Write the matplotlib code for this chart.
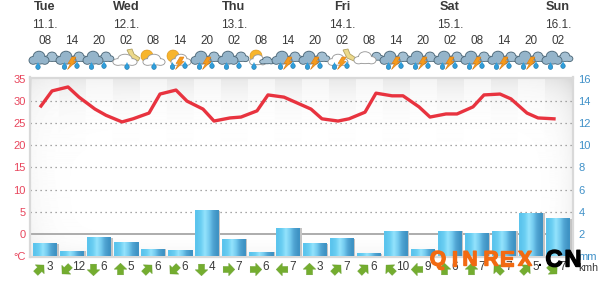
"""Weather forecast chart: temperature line, rain bars, icons and wind row."""
import matplotlib
matplotlib.use("Agg")
import matplotlib.pyplot as plt
import matplotlib.patheffects as pe
import numpy as np
from matplotlib.markers import MarkerStyle
from matplotlib.patches import Ellipse, Polygon, Wedge
from matplotlib.path import Path
from matplotlib.transforms import Affine2D

plt.rcParams["font.family"] = ["Liberation Sans", "DejaVu Sans"]

days = ["Tue", "Wed", "Thu", "Fri", "Sat", "Sun"]
dates = ["11.1.", "12.1.", "13.1.", "14.1.", "15.1.", "16.1."]
day_columns = [0, 3, 7, 11, 15, 19]
hours = ["08", "14", "20", "02", "08", "14", "20", "02", "08", "14",
         "20", "02", "08", "14", "20", "02", "08", "14", "20", "02"]
# two readings per column, the first a little left of the column centre
temperature = [28.9, 32.3, 33.2, 30.9, 28.2, 26.8, 25.3, 26.0, 27.3, 31.6,
               32.5, 30.0, 28.2, 25.5, 26.2, 26.4, 27.8, 31.4, 30.9, 29.8,
               28.2, 26.0, 25.5, 26.0, 27.5, 31.8, 31.2, 31.2, 28.7, 26.4,
               27.1, 27.1, 28.7, 31.4, 31.6, 30.5, 27.3, 26.2, 26.0]
rain = [1.1, 0.45, 1.65, 1.25, 0.6, 0.5, 4.1, 1.5, 0.35, 2.5,
        1.1, 1.55, 0.2, 2.25, 0.55, 2.25, 2.05, 2.25, 3.85, 3.35]
wind_speed = [3, 12, 6, 5, 6, 6, 4, 7, 6, 7, 3, 7, 6, 10, 9, 6, 7, 7, 5, 7]
# degrees the arrow is turned, 0 = pointing up, positive = anticlockwise
wind_turn = [-45, 135, 180, 0, -45, 135, 180, -90, -90, 90,
             0, -45, -45, 45, 90, 0, 0, 45, -45, -135]
icons = ["rain1", "storm", "rain2", "moon", "sun", "sunstorm", "storm", "rain2",
         "moonrain", "storm", "storm", "moonstorm", "dry", "storm", "storm",
         "storm", "storm", "storm", "storm", "rain2"]
left_labels = ["°C", "0", "5", "10", "15", "20", "25", "30", "35"]
right_labels = ["mm", "2", "4", "6", "8", "10", "12", "14", "16"]

RED = "#e8455c"
BLUE = "#3f90c8"
TEXT = "#3a3a3a"
W, H = 600, 282
COL0, COLW = 45.0, 27.0


def col_x(i):
    return COL0 + COLW * i


def cloud(ax, cx, cy, w, h, fill, edge):
    lobes = [(-0.32, 0.2, 0.42, 0.58), (0.32, 0.2, 0.42, 0.58), (0.0, -0.12, 0.6, 0.82), (0.0, 0.22, 0.8, 0.5)]
    for grow, col in ((1.8, edge), (0.0, fill)):
        for dx, dy, fw, fh in lobes:
            ax.add_patch(Ellipse((cx + dx * w, cy + dy * h), fw * w + grow, fh * h + grow,
                                 fc=col, ec="none", zorder=4))


def drop(ax, x, y):
    ax.add_patch(Ellipse((x, y + 1.5), 4.4, 4.8, fc="#2f9fdc", ec="#2a7fb0", lw=0.5, zorder=6))
    ax.add_patch(Polygon([(x - 1.6, y), (x + 1.6, y), (x, y - 3.5)], fc="#2f9fdc", ec="none", zorder=6))


def bolt(ax, x, y):
    pts = [(x + 1, y - 6), (x + 5, y - 6), (x + 2.5, y - 1.5), (x + 5, y - 1.5),
           (x - 3.5, y + 6.5), (x - 0.5, y + 0.5), (x - 3, y + 0.5)]
    ax.add_patch(Polygon(pts, fc="#f59a1c", ec="#e07c10", lw=0.4, zorder=6))


def moon(ax, x, y):
    pts = [(x - 6, y - 6), (x - 1, y - 7), (x + 1, y - 2), (x + 7, y + 2), (x + 5, y + 5), (x - 2, y + 2)]
    ax.add_patch(Polygon(pts, fc="#ecd98a", ec="#b0a060", lw=0.6, zorder=3))


def sun(ax, x, y):
    ax.add_patch(Wedge((x, y), 6, 0, 360, fc="#f7b52c", ec="#d98e14", lw=0.4, zorder=3))


def dark_clouds(ax, c):
    cloud(ax, c + 7, 57, 14, 8.5, "#a3bfd2", "#4f6a7a")
    cloud(ax, c - 6, 58, 18, 12, "#94b4ca", "#4f6a7a")


def draw_icon(ax, kind, c):
    if kind in ("rain1", "rain2", "storm"):
        dark_clouds(ax, c)
    if kind == "moon":
        moon(ax, c + 7, 56)
        cloud(ax, c - 1, 60, 22, 10, "white", "#9a9a9a")
    if kind == "moonstorm":
        moon(ax, c + 7, 56)
        cloud(ax, c - 4, 60, 18, 10, "white", "#9a9a9a")
    if kind == "sun":
        sun(ax, c - 6, 56)
        cloud(ax, c + 1, 60, 20, 10, "white", "#9a9a9a")
    if kind == "sunstorm":
        sun(ax, c - 7, 56)
        cloud(ax, c + 1, 60, 18, 10, "white", "#9a9a9a")
    if kind == "moonrain":
        sun(ax, c - 5, 56)
        cloud(ax, c - 3, 60, 15, 9, "white", "#9a9a9a")
        cloud(ax, c + 6, 60.5, 13, 6, "#a3bfd2", "#4f6a7a")
    if kind == "dry":
        cloud(ax, c + 7.5, 56.5, 13, 7, "#a3bfd2", "#4f6a7a")
        cloud(ax, c - 4, 58, 20, 11, "white", "#9a9a9a")
    if kind in ("rain1", "moon", "sun", "moonrain"):
        drop(ax, c - 7 if kind in ("rain1", "moonrain") else c + 1, 65.5)
    if kind in ("rain2", "storm", "sunstorm", "moonstorm"):
        drop(ax, c - 7.5, 65.5)
        drop(ax, c + 5, 64.5)
    if kind in ("storm", "sunstorm", "moonstorm"):
        bolt(ax, c - 1, 63)


def background(nx=543, ny=180):
    xx = np.arange(nx)[None, :]
    yy = np.arange(ny)[:, None]
    col = np.floor((xx + 30 - (COL0 - COLW / 2)) / COLW).astype(int)
    top = np.exp(-yy / 20.0) * np.where(col % 2 == 1, 0.10, 0.05)
    left = np.exp(-xx / 18.0) * 0.05 * (0.35 + 0.65 * (yy / ny) ** 2 + 0.5 * np.exp(-yy / 40))
    right = np.exp(-(nx - xx) / 12.0) * 0.08 * (0.5 + 0.5 * np.exp(-yy / 60) + 0.3 * (yy / ny) ** 4)
    bottom = np.exp(-(ny - yy) / 9.0) * 0.05
    grey = 1.0 - top - left - right - bottom
    return grey


fig = plt.figure(figsize=(W / 100, H / 100), dpi=100)

# main axes, pixel box of the plot frame
px_l, px_r, px_t, px_b = 30.0, 573.0, 77.5, 256.5
ax = fig.add_axes([px_l / W, 1 - px_b / H, (px_r - px_l) / W, (px_b - px_t) / H])
xlim = ((px_l - COL0) / COLW, (px_r - COL0) / COLW)
deg_px = 4.43
ylim = (-5 - (px_b - 256.0) / deg_px, 35 + (79.0 - px_t) / deg_px)

ax.imshow(background(), extent=(*xlim, *ylim), cmap="gray", vmin=0, vmax=1, aspect="auto", zorder=0)

ax.yaxis.set_ticks(np.arange(-5, 36, 5))
ax.set_yticklabels(left_labels, color=RED, fontsize=8)
ax.xaxis.set_ticks([])
ax.tick_params(axis="y", length=0, pad=3)
for s in ax.spines.values():
    s.set_color("#d9d9d9")
    s.set_linewidth(1.6)

for t in np.arange(5, 35, 5):
    ax.axhline(t, color="#8a8a8a", lw=0.9, ls=(0, (1, 3)), zorder=1)
ax.axhline(0, color="#a6a6a6", lw=1.3, zorder=1)

# rain bars on the right hand scale, same pixel box
rx = ax.twinx()
rx.set_xlim(xlim)
rx.set_ylim((ylim[0] + 5) * 0.4, (ylim[1] + 5) * 0.4)
rx.yaxis.set_ticks(np.arange(0, 17, 2))
rx.set_yticklabels(right_labels, color=BLUE, fontsize=8)
rx.tick_params(axis="y", length=0, pad=4)
for s in rx.spines.values():
    s.set_visible(False)
rx.patch.set_visible(False)

xs = np.arange(len(rain))
bar_w = 24.0 / COLW
rx.bar(xs + 1.5 / COLW, rain, width=bar_w, color="#c4c4c4", zorder=2)
bars = rx.bar(xs, rain, width=bar_w, color="#5cc4ec", zorder=3)
shade = np.array([[0.36, 0.77, 0.93], [0.42, 0.81, 0.95], [0.58, 0.89, 0.99],
                  [0.46, 0.80, 0.94], [0.32, 0.65, 0.83], [0.25, 0.58, 0.77]])[None, :, :]
for b in bars:
    rx.imshow(shade, extent=(b.get_x(), b.get_x() + b.get_width(), 0, b.get_height()),
              aspect="auto", interpolation="bilinear", zorder=3)
rx.set_xlim(xlim)
rx.set_ylim((ylim[0] + 5) * 0.4, (ylim[1] + 5) * 0.4)

# temperature on top of the bars
lx = (np.arange(len(temperature)) // 2) + np.where(np.arange(len(temperature)) % 2 == 0, -4.0, 7.0) / COLW
tx = ax.twinx()
tx.set_ylim(ylim)
tx.set_xlim(xlim)
tx.axis("off")
tx.plot(lx, temperature, color="#e8333f", lw=2.4, solid_joinstyle="round", zorder=5)

# overlay in pixel coordinates for the header and wind row
ov = fig.add_axes([0, 0, 1, 1], zorder=10)
ov.set_xlim(0, W)
ov.set_ylim(H, 0)
ov.axis("off")

for name, date, c in zip(days, dates, day_columns):
    ov.text(col_x(c), 7, name, ha="center", va="center", fontsize=9.2, fontweight="bold", color=TEXT)
    ov.text(col_x(c), 24.5, date, ha="center", va="center", fontsize=8.5, color=TEXT)
for i, h in enumerate(hours):
    ov.text(col_x(i), 40.5, h, ha="center", va="center", fontsize=8.5, color=TEXT)
    draw_icon(ov, icons[i], col_x(i))

arrow = Path([(0, 1), (1, 0.05), (0.48, 0.05), (0.48, -0.85), (-0.48, -0.85), (-0.48, 0.05), (-1, 0.05), (0, 1)],
             closed=True)
for i, (spd, turn) in enumerate(zip(wind_speed, wind_turn)):
    m = MarkerStyle(arrow, transform=Affine2D().rotate_deg(turn))
    ov.plot(col_x(i) - 6, 268.5, marker=m, ms=9, color="#74ad2f", mec="#5f9a24", mew=0.3, ls="none")
    ov.text(col_x(i) + (5 if spd < 10 else 6.5), 267.5, str(spd), ha="center", va="center",
            fontsize=8.5, color=TEXT)
ov.text(588, 268, "kmh", ha="center", va="center", fontsize=7.6, color=TEXT)

# watermark
for ch, x in zip("QINREX", [438, 454, 470, 491, 507, 525]):
    ov.text(x, 260, ch, ha="center", va="center", fontsize=15, fontweight="bold", color="#f26a12", zorder=12,
            path_effects=[pe.withStroke(linewidth=1.0, foreground="#f26a12")])
ov.text(540, 262, ".", ha="center", va="center", fontsize=10, fontweight="bold", color="black", zorder=12)
for ch, x in zip("CN", [554, 573]):
    ov.text(x, 260, ch, ha="center", va="center", fontsize=17, fontweight="bold", color="black", zorder=12,
            path_effects=[pe.withStroke(linewidth=1.0, foreground="black")])

fig.savefig("out.png", dpi=100)
